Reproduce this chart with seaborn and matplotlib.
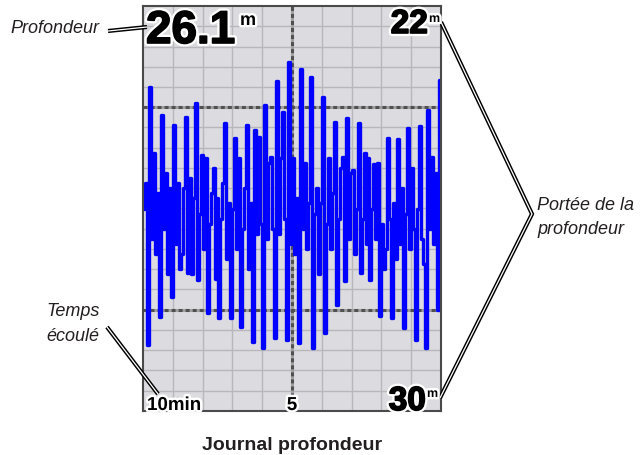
import numpy as np
import pandas as pd
import seaborn as sns
import matplotlib
matplotlib.use("Agg")
import matplotlib.pyplot as plt
import matplotlib.patheffects as pe

# Depth log samples (metres), oldest on the left, newest on the right
depth_m = [
    26.0, 25.5, 28.70, 23.60, 26.6, 24.9, 26.9, 25.7, 28.14, 24.15,
    26.4, 25.3, 27.3, 25.6, 27.75, 24.35, 26.7, 25.5, 27.2, 26.9,
    25.6, 24.19, 27.27, 25.4, 27.3, 25.8, 23.92, 27.41, 26.1, 24.94,
    26.8, 25.0, 28.06, 26.3, 25.7, 25.20, 27.4, 25.8, 28.16, 26.2,
    25.5, 24.31, 27.0, 25.9, 28.16, 26.0, 24.61, 26.8, 25.0, 28.34,
    26.4, 25.6, 24.35, 27.2, 25.9, 28.64, 24.45, 26.5, 24.59, 26.3,
    28.76, 23.96, 26.6, 25.1, 24.98, 26.4, 28.56, 23.48, 26.5, 25.0,
    24.09, 26.2, 28.60, 23.11, 26.7, 25.0, 26.9, 25.8, 28.66, 23.24,
    26.4, 25.1, 26.8, 25.9, 23.40, 28.76, 26.1, 25.6, 27.3, 25.9,
    23.80, 28.46, 26.3, 25.0, 26.8, 25.7, 24.29, 27.9, 26.2, 25.2,
    24.98, 27.43, 24.21, 26.6, 25.3, 25.24, 26.9, 26.0, 24.31, 27.27,
    26.2, 24.90, 26.7, 25.0, 27.41, 26.0, 25.12, 26.6, 25.1, 28.12,
    26.3, 27.2, 26.8, 24.61, 26.2, 28.16, 25.9, 27.0, 24.63, 26.7,
    25.6, 28.36, 26.1, 24.41, 26.8, 25.2, 26.4, 28.60, 26.0, 24.37,
    26.6, 27.1, 28.76, 24.05, 26.4, 24.98, 26.7, 25.3, 28.00, 23.46,
]
current_depth = 26.1
range_top = 22
range_bottom = 30
span_min = 10
mid_label = 5

# Minutes before now for each sample, evenly spaced over the logged span
n = len(depth_m)
time_min = -span_min + (np.arange(n) + 0.5) * span_min / n
df = pd.DataFrame({"time": time_min, "depth": depth_m})

sns.set_theme(style="white")
plt.rcParams["font.family"] = ["Liberation Sans", "DejaVu Sans"]

W, H = 644, 455
fig = plt.figure(figsize=(W / 100, H / 100), dpi=100)
fig.patch.set_facecolor("white")

L, R, T, B = 143, 441, 6, 411
ax = fig.add_axes([L / W, 1 - B / H, (R - L) / W, (B - T) / H])
ax.set_facecolor("#dcdbdf")
ax.set_xlim(-span_min, 0)
ax.set_ylim(range_bottom, range_top)

# background grid
for x in np.arange(-span_min + 1, 0, 1):
    ax.axvline(x, color="#b8b7bb", lw=1.0, zorder=0.5)
for y in np.arange(range_top + 0.4, range_bottom - 0.01, 0.4):
    ax.axhline(y, color="#b8b7bb", lw=1.0, zorder=0.5)
# dashed reference lines
for y in (range_top + 2, range_bottom - 2):
    ax.axhline(y, color="#a0a0a0", lw=2.2, zorder=0.6)
    ax.axhline(y, color="#505050", lw=2.2, dashes=(1.3, 1.0), zorder=0.7)
ax.axvline(-mid_label, color="#a0a0a0", lw=2.2, zorder=0.6)
ax.axvline(-mid_label, color="#505050", lw=2.2, dashes=(1.3, 1.0), zorder=0.7)

sns.lineplot(data=df, x="time", y="depth", ax=ax, color="#0000ff",
             linewidth=2.4, drawstyle="steps-mid", estimator=None, zorder=2)

ax.set_xticks([])
ax.set_yticks([])
ax.set_xlabel("")
ax.set_ylabel("")
for s in ax.spines.values():
    s.set_color("#4a4a4a")
    s.set_linewidth(1.5)

# overlay in pixel coordinates for labels and callouts
ov = fig.add_axes([0, 0, 1, 1], zorder=5)
ov.set_xlim(0, W)
ov.set_ylim(H, 0)
ov.axis("off")
ov.patch.set_alpha(0)

halo = [pe.withStroke(linewidth=3.5, foreground="white")]
heavy = [pe.withStroke(linewidth=4.5, foreground="white"),
         pe.withStroke(linewidth=1.2, foreground="black")]

ov.text(146, 43, f"{current_depth:.1f}", fontsize=33, fontweight="bold",
        color="black", ha="left", va="baseline", path_effects=heavy)
ov.text(240, 25, "m", fontsize=13, fontweight="bold", color="black",
        ha="left", va="baseline", path_effects=halo)

ov.text(428, 33, f"{range_top}", fontsize=24, fontweight="bold", color="black",
        ha="right", va="baseline", path_effects=heavy)
ov.text(429, 22, "m", fontsize=9, fontweight="bold", color="black",
        ha="left", va="baseline", path_effects=halo)

ov.text(426, 410, f"{range_bottom}", fontsize=24, fontweight="bold", color="black",
        ha="right", va="baseline", path_effects=heavy)
ov.text(427, 397, "m", fontsize=9, fontweight="bold", color="black",
        ha="left", va="baseline", path_effects=halo)

ov.text(147, 410, f"{span_min}min", fontsize=13.5, fontweight="bold", color="black",
        ha="left", va="baseline", path_effects=halo)
ov.text(292, 410, f"{mid_label}", fontsize=13.5, fontweight="bold", color="black",
        ha="center", va="baseline", path_effects=halo)


def callout(xs, ys):
    ov.plot(xs, ys, color="black", lw=3.0, solid_joinstyle="miter",
            solid_capstyle="butt")
    ov.plot(xs, ys, color="white", lw=0.9, solid_joinstyle="miter",
            solid_capstyle="butt")


callout([108, 147], [31, 27])
callout([441, 532, 440], [22, 214, 398])
callout([107, 158], [327, 394])

label_color = "#231f20"
ov.text(10, 33, "Profondeur", fontsize=13, style="italic", color=label_color,
        ha="left", va="baseline")
ov.text(537, 210, "Portée de la", fontsize=13, style="italic", color=label_color,
        ha="left", va="baseline")
ov.text(537, 234, "profondeur", fontsize=13, style="italic", color=label_color,
        ha="left", va="baseline")
ov.text(73, 316, "Temps", fontsize=13, style="italic", color=label_color,
        ha="center", va="baseline")
ov.text(73, 341, "écoulé", fontsize=13, style="italic", color=label_color,
        ha="center", va="baseline")
ov.text(292, 450, "Journal profondeur", fontsize=14, fontweight="bold",
        color=label_color, ha="center", va="baseline")

fig.savefig("out.png", dpi=100, facecolor="white")
